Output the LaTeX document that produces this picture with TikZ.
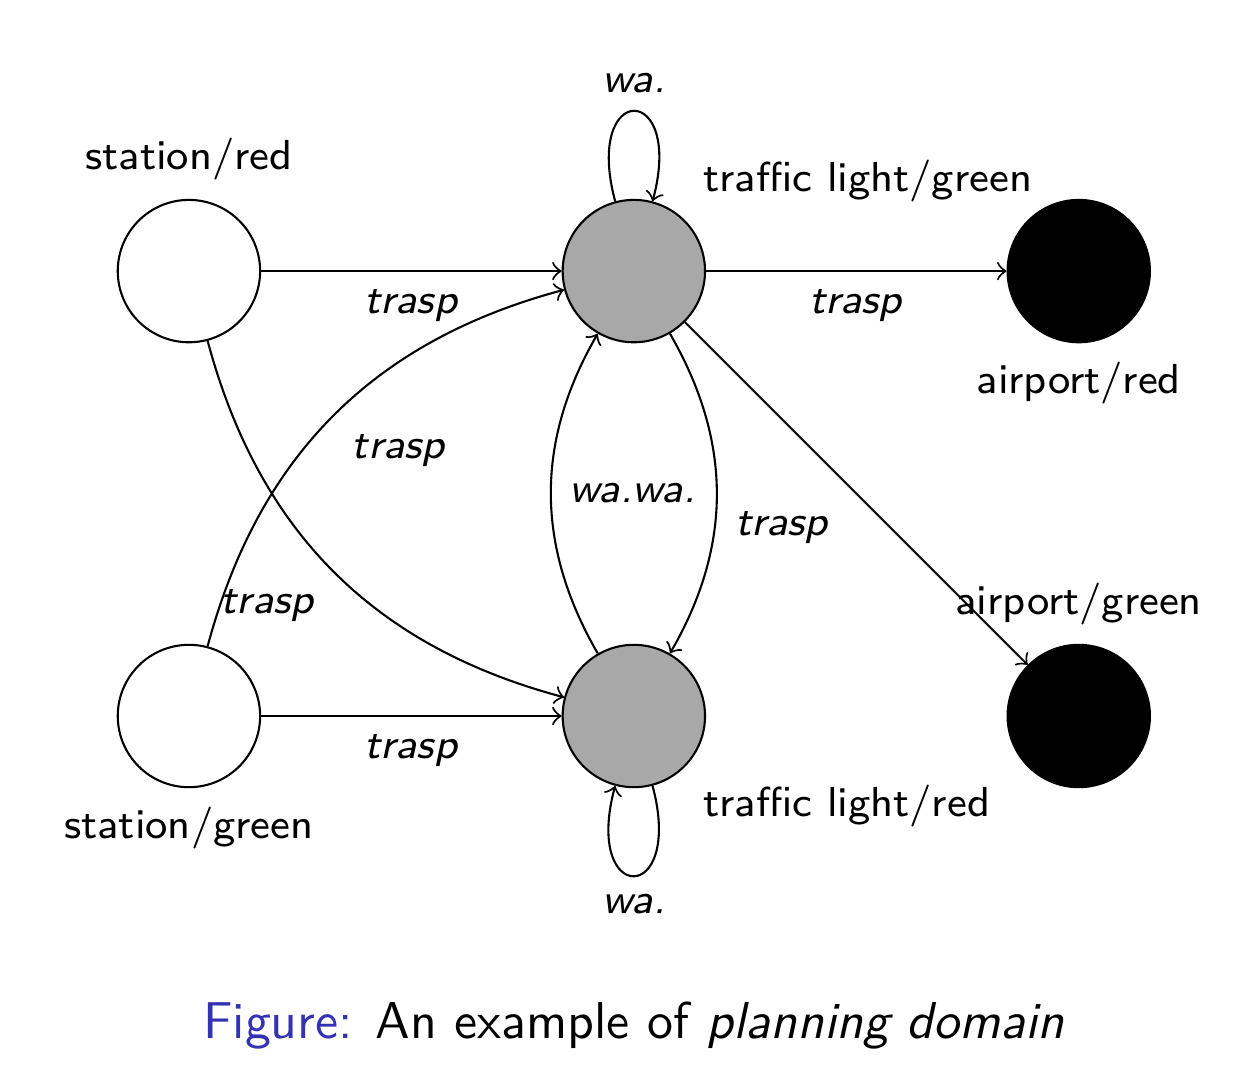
\documentclass[tikz,border=0pt]{standalone}
\renewcommand{\familydefault}{\sfdefault}
\definecolor{stategray}{RGB}{168,168,168}
\definecolor{figblue}{RGB}{51,51,179}
\tikzset{
  statenode/.style={circle, draw, minimum size=0.96cm, inner sep=0pt},
  every loop/.style={min distance=8.4mm},
}
\begin{document}
\begin{tikzpicture}[every node/.style={font=\fontsize{8.05pt}{10pt}\selectfont}]
      \useasboundingbox (-1.274, -2.380) rectangle (7.141, 4.828);
      \node[statenode] (sr) at (0, 3){};
      \node[statenode] (sg) at (0, 0){};
      \node[statenode, fill=stategray] (tg) at (3, 3){};
      \node[statenode, fill=stategray] (tr) at (3, 0){};
      \node[statenode, fill=black] (ar) at (6, 3){};
      \node[statenode, fill=black] (ag) at (6, 0){};

      \node[anchor=south] (srl) at (sr.north){station/red};
      \node[anchor=north] (sgl) at (sg.south){station/green};
      \node[anchor=south west] (tgl) at (tg.north east){traffic light/green};
      \node[anchor=north west] (trl) at (tr.south east){traffic light/red};
      \node[anchor=north] (arl) at (ar.south){airport/red};
      \node[anchor=south] (agl) at (ag.north){airport/green};

      \draw[->](sr) to node[below] (e1){\textit{trasp}} (tg);
      \draw[->](sg) to node[below] (e2){\textit{trasp}} (tr);
      \draw[->](tg) to node[below] (e3){\textit{trasp}} (ar);
      \draw[->](tg) to (ag);
      \draw[->](sg) to[bend left=30] node[below right] (e4){\textit{trasp}} (tg);
      \draw[->](sr) to[bend right=30] node[below left] (e5){\textit{trasp}} (tr);
      \draw[->](tg) to[bend left=30] node[below right] (e6){\textit{trasp}} (tr);
      \draw[->](tr) to[bend left=30] node[right] (e7){\textit{wa.wa.}} (tg);
      \draw[->](tg) to[loop above] node[above] (w1){\textit{wa.}} (tg);
      \draw[->](tr) to[loop below] node[below] (w2){\textit{wa.}} (tr);

      \node (cap) at (3.0, -2.084){\fontsize{9.95pt}{12pt}\selectfont\textcolor{figblue}{Figure:} An example of \textit{planning domain}};
    \end{tikzpicture}
\end{document}
